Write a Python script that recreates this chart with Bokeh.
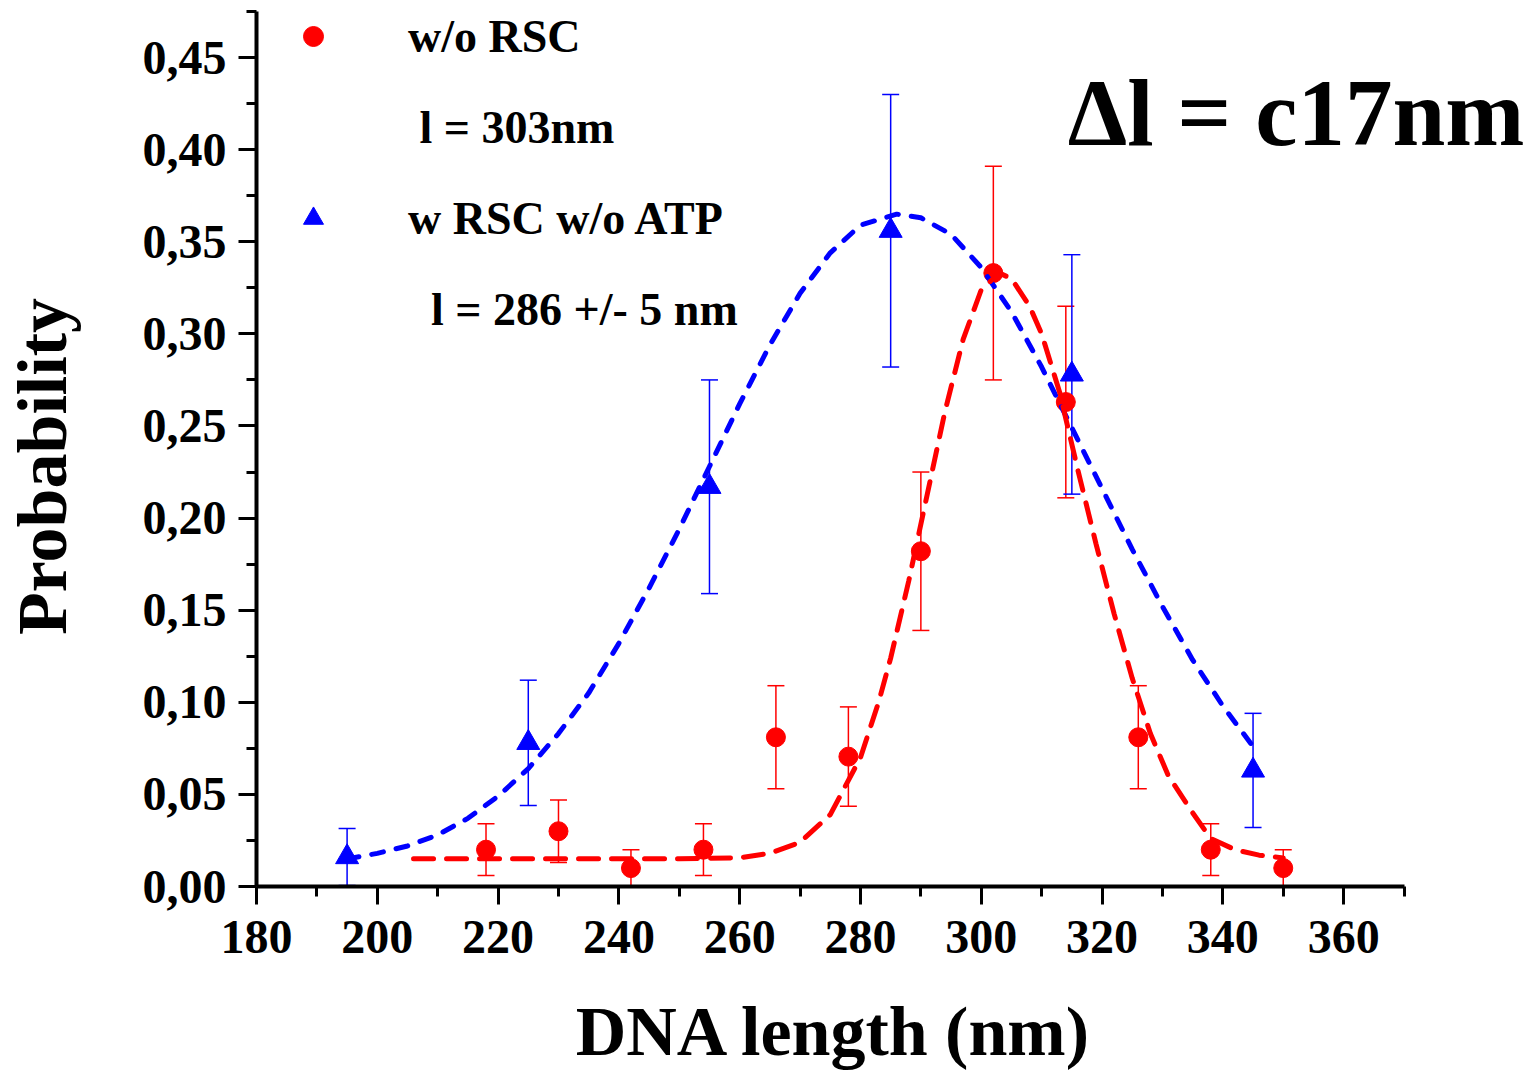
from bokeh.plotting import figure
from bokeh.models import (Range1d, FixedTicker, CustomJSTickFormatter, Whisker, TeeHead,
                          ColumnDataSource, Legend, LegendItem, Label)
from bokeh.embed import file_html
from bokeh.resources import INLINE

# ---------------- data ----------------
red_x = [218, 230, 242, 254, 266, 278, 290, 302, 314, 326, 338, 350]
red_y = [0.020, 0.030, 0.010, 0.020, 0.081, 0.0705, 0.182, 0.333, 0.263, 0.081, 0.020, 0.010]
red_err = [0.014, 0.017, 0.010, 0.014, 0.028, 0.027, 0.043, 0.058, 0.052, 0.028, 0.014, 0.010]

blue_x = [195, 225, 255, 285, 315, 345]
blue_y = [0.016, 0.078, 0.217, 0.356, 0.278, 0.063]
blue_err = [0.0155, 0.034, 0.058, 0.074, 0.065, 0.031]

red_fit_x = [206, 230, 250, 260, 265, 270, 275, 280, 283, 285, 288, 291, 294, 297, 300, 303,
             305, 308, 310, 313, 316, 319, 322, 325, 328, 331, 335, 338, 342, 346, 350]
red_fit_y = [0.015, 0.015, 0.015, 0.0156, 0.018, 0.024, 0.039, 0.070, 0.100, 0.124, 0.166, 0.212,
             0.258, 0.297, 0.324, 0.333, 0.330, 0.315, 0.300, 0.268, 0.226, 0.186, 0.148, 0.113,
             0.083, 0.060, 0.040, 0.026, 0.020, 0.017, 0.0155]

blue_fit_x = [195, 200, 205, 210, 215, 220, 225, 230, 235, 240, 245, 250, 255, 260, 265, 270,
              275, 280, 286, 290, 295, 300, 305, 310, 315, 320, 325, 330, 335, 340, 345]
blue_fit_y = [0.015, 0.018, 0.022, 0.028, 0.037, 0.049, 0.064, 0.083, 0.105, 0.132, 0.162, 0.194,
              0.228, 0.262, 0.294, 0.322, 0.344, 0.359, 0.365, 0.363, 0.354, 0.336, 0.312, 0.282,
              0.249, 0.216, 0.183, 0.152, 0.123, 0.098, 0.076]

x_ticks = [180, 200, 220, 240, 260, 280, 300, 320, 340, 360]
x_minor = [190, 210, 230, 250, 270, 290, 310, 330, 350, 370]
y_ticks = [0.0, 0.05, 0.10, 0.15, 0.20, 0.25, 0.30, 0.35, 0.40, 0.45]
y_minor = [0.025, 0.075, 0.125, 0.175, 0.225, 0.275, 0.325, 0.375, 0.425, 0.475]

legend_labels = ["w/o RSC", "\u00a0l = 303nm", "w RSC w/o ATP", "\u00a0\u00a0l = 286 +/- 5 nm"]
annotation_text = "\u0394l = c17nm"
x_label = "DNA length (nm)"
y_label = "Probability"

FONT = "Liberation Serif"
NB = "\u00a0"

# ---------------- figure ----------------
# the frame runs to the right edge so the big annotation is not clipped;
# the visible x axis is limited to 180..370 via bounds
p = figure(width=1534, height=1072, output_backend="svg", toolbar_location=None,
           x_range=Range1d(180, 391.6), y_range=Range1d(0, 0.475),
           min_border_left=255, min_border_right=0, min_border_top=11, min_border_bottom=185)
p.grid.visible = False
p.outline_line_color = None
p.background_fill_color = "white"
p.border_fill_color = "white"

for ax in (p.xaxis[0], p.yaxis[0]):
    ax.axis_line_width = 4
    ax.axis_line_color = "black"
    ax.major_tick_line_width = 3
    ax.minor_tick_line_width = 3
    ax.major_tick_line_color = "black"
    ax.minor_tick_line_color = "black"
    ax.major_tick_out = 18
    ax.major_tick_in = 0
    ax.minor_tick_out = 10
    ax.minor_tick_in = 0
    ax.major_label_text_font = FONT
    ax.major_label_text_font_size = "48px"
    ax.major_label_text_font_style = "bold"
    ax.major_label_text_color = "black"
    ax.axis_label_text_font = FONT
    ax.axis_label_text_font_size = "70px"
    ax.axis_label_text_font_style = "bold"
    ax.axis_label_text_color = "black"

p.xaxis.bounds = (180, 370)
p.xaxis.ticker = FixedTicker(ticks=x_ticks, minor_ticks=x_minor)
p.yaxis.ticker = FixedTicker(ticks=y_ticks, minor_ticks=y_minor)
p.yaxis.formatter = CustomJSTickFormatter(code="return tick.toFixed(2).replace('.', ',');")
p.xaxis.major_label_standoff = 16
p.yaxis.major_label_standoff = 12
# pad with no-break spaces so the centred labels sit where the reference has them
p.xaxis.axis_label = x_label + NB * 7
p.yaxis.axis_label = y_label + NB * 2
p.xaxis.axis_label_standoff = 37
p.yaxis.axis_label_standoff = 59

# error bars
red_src = ColumnDataSource(dict(x=red_x, y=red_y,
                                up=[v + e for v, e in zip(red_y, red_err)],
                                lo=[v - e for v, e in zip(red_y, red_err)]))
blue_src = ColumnDataSource(dict(x=blue_x, y=blue_y,
                                 up=[v + e for v, e in zip(blue_y, blue_err)],
                                 lo=[v - e for v, e in zip(blue_y, blue_err)]))
for src, col in ((red_src, "#FF0000"), (blue_src, "#0000FF")):
    w = Whisker(source=src, base="x", upper="up", lower="lo", dimension="height",
                line_color=col, line_width=1.5,
                upper_head=TeeHead(size=17, line_color=col, line_width=1.5),
                lower_head=TeeHead(size=17, line_color=col, line_width=1.5))
    p.add_layout(w)

r_red = p.scatter("x", "y", source=red_src, marker="circle", size=19,
                  fill_color="#FF0000", line_color="#FF0000")
r_blue = p.scatter("x", "y", source=blue_src, marker="triangle", size=23,
                   fill_color="#0000FF", line_color="#0000FF")

p.line(blue_fit_x, blue_fit_y, line_color="#0000FF", line_width=5, line_dash="12 13",
       line_cap="round")
p.line(red_fit_x, red_fit_y, line_color="#FF0000", line_width=5, line_dash="20 13",
       line_cap="round")

# invisible renderers for the text-only legend rows
d1 = p.scatter(x=[], y=[], marker="circle", fill_alpha=0, line_alpha=0)
d2 = p.scatter(x=[], y=[], marker="circle", fill_alpha=0, line_alpha=0)

legend = Legend(items=[LegendItem(label=legend_labels[0], renderers=[r_red]),
                       LegendItem(label=legend_labels[1], renderers=[d1]),
                       LegendItem(label=legend_labels[2], renderers=[r_blue]),
                       LegendItem(label=legend_labels[3], renderers=[d2])],
                location=(32, 549), padding=0, margin=0, spacing=35,
                glyph_height=56, glyph_width=50, label_height=56, label_standoff=70,
                border_line_alpha=0, background_fill_alpha=0,
                label_text_font=FONT, label_text_font_size="46px",
                label_text_font_style="bold", label_text_color="black")
p.add_layout(legend)

p.add_layout(Label(x=314.3, y=0.4199, text=annotation_text, text_font=FONT,
                   text_font_size="95px", text_font_style="bold", text_color="black",
                   text_align="left", text_baseline="alphabetic"))

open("out.html", "w").write(file_html(p, INLINE))
